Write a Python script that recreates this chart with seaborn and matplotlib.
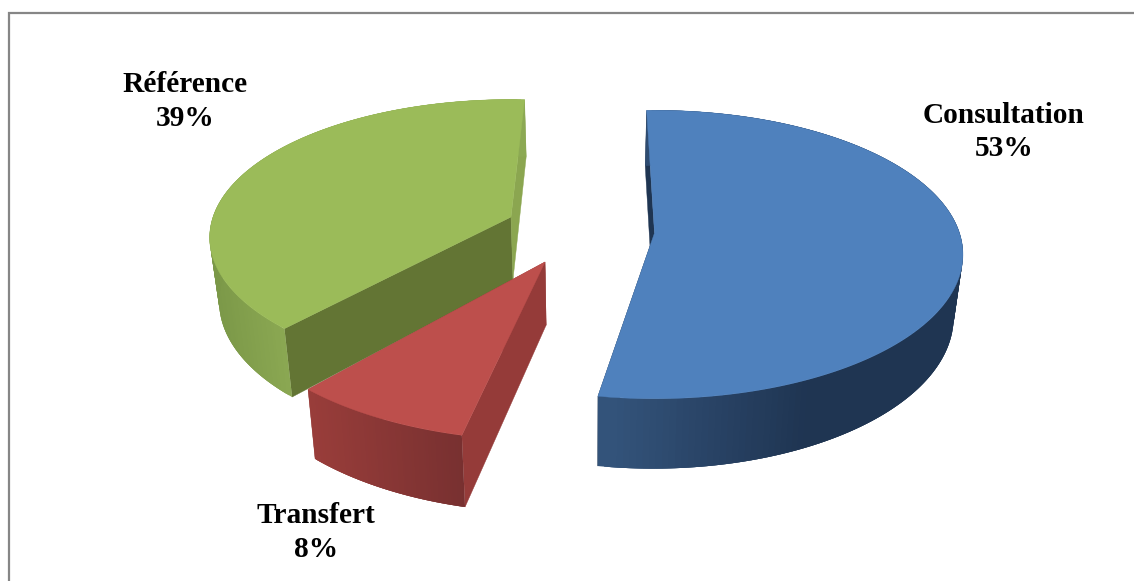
import numpy as np
import matplotlib
matplotlib.use("Agg")
import matplotlib.pyplot as plt
from matplotlib.collections import PolyCollection
import seaborn as sns

# Shares of the three kinds of visit
categories = ["Consultation", "Transfert", "Référence"]
percentages = [53, 8, 39]

# Slice colours: top face, radial face, wall gradient (two stops)
top_colors = ["#4F81BD", "#BD4F4C", "#9BBB59"]
radial_colors = ["#1F3552", "#953B39", "#8BA650"]
inner_colors = [None, None, "#637534"]
wall_stops = [("#34547C", "#1F3552"), ("#993D3A", "#773030"), ("#7B9848", "#8CA953")]
wall_span = [(596, 800), (307, 464), (209, 287)]

# Exploded slice layout on the canvas (pixels) and pie projection
apex = [(654.5, 233), (545, 262), (511, 217)]
radius_x = [305, 316, 298]
radius_y = [141, 152, 135]
first_angle = [-1.7, 193.0, 222.6]
wall_depth = [62, 62, 64]
perspective = 0.149
vanish_x = 590

label_xy = [(1004, 132), (316, 532.5), (185, 101.5)]

sns.set_theme(style="white")
plt.rcParams["font.family"] = ["Liberation Serif", "DejaVu Serif"]

fig, ax = plt.subplots(figsize=(11.34, 5.81), dpi=100)
ax.set_position([0, 0, 1, 1])
ax.set_xlim(0, 1134)
ax.set_ylim(581, 0)
ax.axis("off")


def project(theta, c, rx, ry):
    """Top-face canvas position of a rim point at clockwise angle theta from the back."""
    t = np.radians(theta)
    u, v = np.sin(t), -np.cos(t)
    w = 1 - perspective * v
    return c[0] + rx * u / w, c[1] + ry * v / w


def drop(p, depth):
    """Matching point on the bottom face: walls converge slightly downward."""
    x, y = p
    return x + (vanish_x - x) * 0.025, y + depth + 0.05 * (y - 240)


sweeps = [360 * p / sum(percentages) for p in percentages]

# Back slice first so nearer ones overlap it
for i in [2, 1, 0]:
    base = (2 - i) * 3 + 1
    th = np.linspace(first_angle[i], first_angle[i] + sweeps[i], 181)
    xs, ys = project(th, apex[i], radius_x[i], radius_y[i])
    rim = np.column_stack([xs, ys])
    c = np.array(apex[i], float)
    d = wall_depth[i]

    # Radial faces
    for end, colour in [(rim[0], inner_colors[i] or radial_colors[i]), (rim[-1], radial_colors[i])]:
        quad = [end, c, drop(c, d), drop(end, d)]
        ax.add_patch(plt.Polygon(quad, closed=True, fc=colour, ec=colour, lw=0.3, zorder=base))

    # Curved wall, shaded along its width; each band overlaps the next to hide seams
    palette = sns.blend_palette(wall_stops[i], 64)
    bands, shades = [], []
    for k in range(len(rim) - 3):
        top = rim[k:k + 4]
        bottom = np.array([drop(p, d) for p in top[::-1]])
        bands.append(np.vstack([top, bottom]))
        s = (top[:, 0].mean() - wall_span[i][0]) / (wall_span[i][1] - wall_span[i][0])
        shades.append(palette[int(np.clip(s, 0, 1) * 63)])
    ax.add_collection(PolyCollection(bands, facecolors=shades, edgecolors="none",
                                     linewidths=0, zorder=base + 0.5))

    # Top face
    ax.add_patch(plt.Polygon(np.vstack([c, rim]), closed=True, fc=top_colors[i],
                             ec=top_colors[i], lw=0.3, zorder=base + 1))

    ax.text(label_xy[i][0], label_xy[i][1], f"{categories[i]}\n{percentages[i]}%",
            ha="center", va="center", multialignment="center", fontsize=21.2,
            fontweight="bold", color="black", linespacing=1.3, zorder=30)

# Chart-area frame
ax.plot([9, 9, 1134], [581, 12.5, 12.5], color="#868686", lw=1.6, solid_joinstyle="miter",
        clip_on=False, zorder=40)

fig.savefig("out.png", dpi=100, facecolor="white")
